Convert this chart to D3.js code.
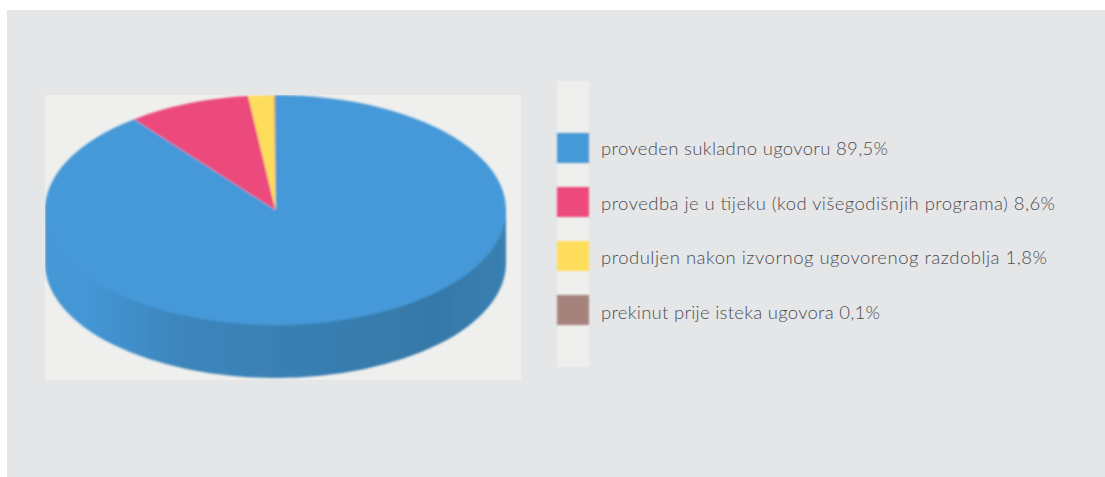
<!DOCTYPE html>
<html>
<head>
<meta charset="utf-8">
<script src="https://cdn.jsdelivr.net/npm/d3@7"></script>
<style>
html, body { margin: 0; padding: 0; background: #fff; }
svg { display: block; }
text { font-family: Lato, "Open Sans", sans-serif; font-weight: 300; font-size: 18.5px; fill: #4d4d4f; }
</style>
</head>
<body>
<div id="chart"></div>
<script>
const labels = [
    "proveden sukladno ugovoru 89,5%",
    "provedba je u tijeku (kod višegodišnjih programa) 8,6%",
    "produljen nakon izvornog ugovorenog razdoblja 1,8%",
    "prekinut prije isteka ugovora 0,1%"
];
const values = [89.5, 8.6, 1.8, 0.1];
const colors = ["#4499d8", "#ec4a7b", "#fedd5b", "#a5827c"];

const width = 1105, height = 477;
const cx = 275.5, cy = 210, rx = 230.5, ry = 115, depth = 53;
// the original font runs wider on the long lines, so fit each line to its measured width
const textWidths = [287, 454, 446, 279];

const svg = d3.select("#chart").append("svg")
    .attr("width", width)
    .attr("height", height);

const defs = svg.append("defs");
defs.append("filter").attr("id", "soft")
    .attr("x", "-5%").attr("y", "-5%").attr("width", "110%").attr("height", "110%")
    .append("feGaussianBlur").attr("stdDeviation", 0.9);

// side of the pie goes darker to the right
const wallGrad = defs.append("linearGradient").attr("id", "wall");
[[0, "#4497d6"], [0.09, "#4496d5"], [0.3, "#3c85bb"], [0.85, "#3679a8"], [1, "#3a80b2"]].forEach(function(s) {
    wallGrad.append("stop").attr("offset", s[0]).attr("stop-color", s[1]);
});

defs.append("clipPath").attr("id", "imgClip").append("rect")
    .attr("x", 45).attr("y", 95).attr("width", 476).attr("height", 285);

// grey panel + the lighter boxes behind pie and legend
svg.append("rect").attr("x", 7).attr("y", 10).attr("width", width - 7).attr("height", height - 10).attr("fill", "#e5e6e8");
svg.append("rect").attr("x", 45).attr("y", 95).attr("width", 476).attr("height", 285).attr("fill", "#efefed");
svg.append("rect").attr("x", 557).attr("y", 81).attr("width", 32).attr("height", 286).attr("fill", "#eeeeec");

const pie = d3.pie().sort(null).value(function(d) { return d; });
const slices = pie(values);
const arc = d3.arc().innerRadius(0).outerRadius(rx);
const squash = " scale(1," + (ry / rx) + ")";

const g = svg.append("g")
    .attr("clip-path", "url(#imgClip)")
    .append("g")
    .attr("filter", "url(#soft)");

// wall: straight part + lower half of the ellipse pushed down by depth
g.append("rect")
    .attr("x", cx - rx).attr("y", cy)
    .attr("width", rx * 2).attr("height", depth)
    .attr("fill", "url(#wall)");
g.append("path")
    .attr("transform", "translate(" + cx + "," + (cy + depth) + ")" + squash)
    .attr("d", arc({ startAngle: Math.PI / 2, endAngle: Math.PI * 1.5 }))
    .attr("fill", "url(#wall)");

// top face: circle arcs squashed into an ellipse
g.append("g")
    .attr("transform", "translate(" + cx + "," + cy + ")" + squash)
    .selectAll("path")
    .data(slices)
    .join("path")
    .attr("d", arc)
    .attr("fill", function(d, i) { return colors[i]; });

// legend
const swatchY = d3.scalePoint().domain(d3.range(labels.length)).range([148, 310]);
const baselineY = d3.scalePoint().domain(d3.range(labels.length)).range([155, 319]);

const legend = svg.append("g");

legend.selectAll("rect")
    .data(labels)
    .join("rect")
    .attr("x", 557)
    .attr("y", function(d, i) { return swatchY(i) - 15; })
    .attr("width", 32)
    .attr("height", 30)
    .attr("fill", function(d, i) { return colors[i]; })
    .attr("filter", "url(#soft)");

legend.selectAll("text")
    .data(labels)
    .join("text")
    .attr("x", 601)
    .attr("y", function(d, i) { return baselineY(i); })
    .attr("textLength", function(d, i) { return textWidths[i]; })
    .attr("lengthAdjust", "spacing")
    .text(function(d) { return d; });
</script>
</body>
</html>
